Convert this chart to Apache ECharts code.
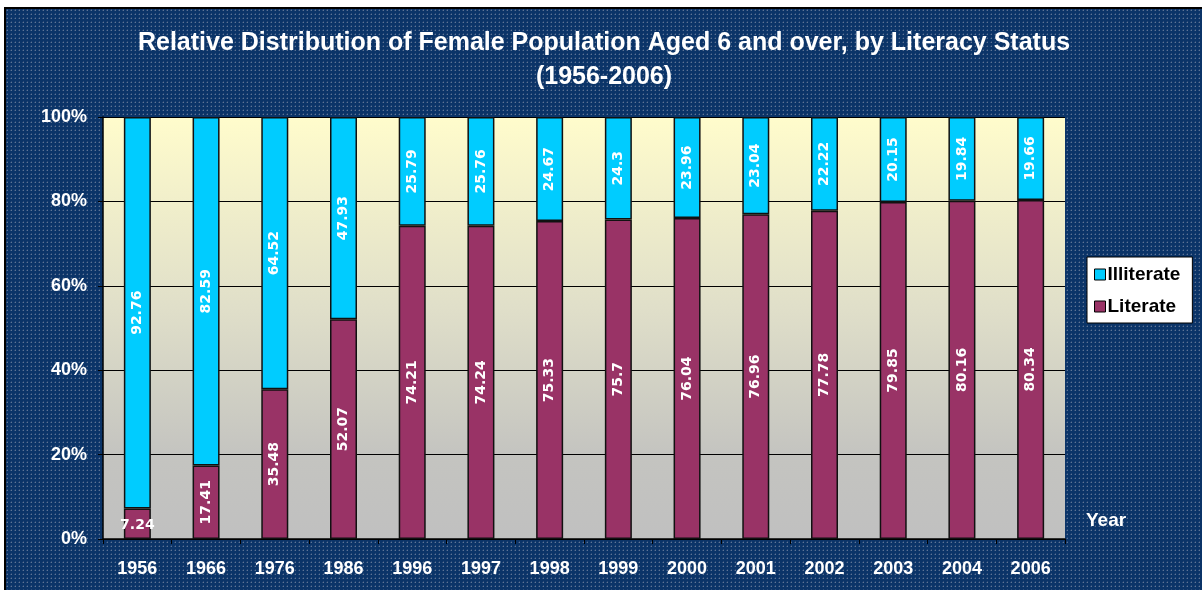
<!DOCTYPE html>
<html>
<head>
<meta charset="utf-8">
<script src="https://cdn.jsdelivr.net/npm/echarts@6/dist/echarts.min.js"></script>
<style>
  html, body { margin: 0; padding: 0; background: #fff; }
  #wrap { position: absolute; left: 4px; top: 7px; width: 1198px; height: 583px; border-left: 2px solid #000; border-top: 2px solid #000; box-sizing: border-box; }
  #chart { width: 100%; height: 100%; }
</style>
</head>
<body>
<div id="wrap"><div id="chart"></div></div>
<script>
const years = ['1956', '1966', '1976', '1986', '1996', '1997', '1998', '1999', '2000', '2001', '2002', '2003', '2004', '2006']
const literate = [7.24, 17.41, 35.48, 52.07, 74.21, 74.24, 75.33, 75.7, 76.04, 76.96, 77.78, 79.85, 80.16, 80.34]
const illiterate = [92.76, 82.59, 64.52, 47.93, 25.79, 25.76, 24.67, 24.3, 23.96, 23.04, 22.22, 20.15, 19.84, 19.66]

// dotted navy background like the excel fill
function makePattern() {
  const c = document.createElement('canvas')
  c.width = 4
  c.height = 4
  const ctx = c.getContext('2d')
  ctx.fillStyle = '#0b3468'
  ctx.fillRect(0, 0, 4, 4)
  ctx.fillStyle = '#5d7595'
  ctx.fillRect(1, 1, 1, 1)
  ctx.fillStyle = '#2a4a78'
  ctx.fillRect(0, 1, 1, 1)
  ctx.fillRect(1, 0, 1, 1)
  return c
}

const chart = echarts.init(document.getElementById('chart'))
const font = 'Liberation Sans, Arial, sans-serif'

const barLabel = {
  show: true,
  position: 'inside',
  rotate: 90,
  color: '#fff',
  fontFamily: 'DejaVu Sans, sans-serif',
  fontWeight: 'bold',
  fontSize: 14
}

const option = {
  backgroundColor: { image: makePattern(), repeat: 'repeat' },
  animation: false,
  title: {
    text: 'Relative Distribution of Female Population Aged 6 and over, by Literacy Status\n(1956-2006)',
    left: 'center',
    top: 12,
    textStyle: {
      color: '#fff',
      fontFamily: font,
      fontWeight: 'bold',
      fontSize: 25,
      lineHeight: 34
    }
  },
  legend: {
    orient: 'vertical',
    left: 1081,
    top: 248,
    data: ['Illiterate', 'Literate'],
    backgroundColor: '#fff',
    borderColor: '#000',
    borderWidth: 1,
    borderRadius: 0,
    padding: [8, 12, 7, 7],
    itemWidth: 11,
    itemHeight: 11,
    itemGap: 13,
    icon: 'rect',
    itemStyle: { borderColor: '#000', borderWidth: 1 },
    textStyle: { color: '#000', fontFamily: font, fontWeight: 'bold', fontSize: 19, padding: [0, 0, 0, -3] }
  },
  grid: {
    left: 97,
    top: 108,
    right: 137,
    bottom: 51,
    show: true,
    borderWidth: 0,
    backgroundColor: {
      type: 'linear', x: 0, y: 0, x2: 0, y2: 1,
      colorStops: [
        { offset: 0, color: '#fffccc' },
        { offset: 0.45, color: '#e0dfc9' },
        { offset: 0.8, color: '#c4c4c0' },
        { offset: 1, color: '#c0c0c0' }
      ]
    }
  },
  graphic: [{
    type: 'text',
    left: 1080,
    top: 502,
    style: { text: 'Year', fill: '#fff', font: 'bold 19px ' + font }
  }],
  xAxis: {
    type: 'category',
    data: years,
    axisLine: { lineStyle: { color: '#000', width: 1.5 } },
    axisTick: { show: true, length: 5, lineStyle: { color: '#000' } },
    axisLabel: { color: '#fff', fontFamily: font, fontWeight: 'bold', fontSize: 18, margin: 21 }
  },
  yAxis: {
    type: 'value',
    min: 0,
    max: 100,
    interval: 20,
    axisLine: { show: true, lineStyle: { color: '#000', width: 1.5 } },
    axisTick: { show: true, length: 5, lineStyle: { color: '#000' } },
    axisLabel: { color: '#fff', fontFamily: font, fontWeight: 'bold', fontSize: 18, margin: 16, formatter: '{value}%' },
    splitLine: { lineStyle: { color: '#000', width: 1 } }
  },
  series: [
    {
      name: 'Literate',
      type: 'bar',
      stack: 'total',
      barWidth: 27,
      data: literate.map((v, i) => i === 0
        ? { value: v, label: { rotate: 0, position: 'insideBottom', offset: [0, -2] } }
        : v),
      itemStyle: { color: '#993366', borderColor: '#111', borderWidth: 1.5 },
      label: barLabel
    },
    {
      name: 'Illiterate',
      type: 'bar',
      stack: 'total',
      barWidth: 27,
      data: illiterate,
      itemStyle: { color: '#00ccff', borderColor: '#111', borderWidth: 1.5 },
      label: barLabel
    }
  ]
}

chart.setOption(option)
</script>
</body>
</html>
